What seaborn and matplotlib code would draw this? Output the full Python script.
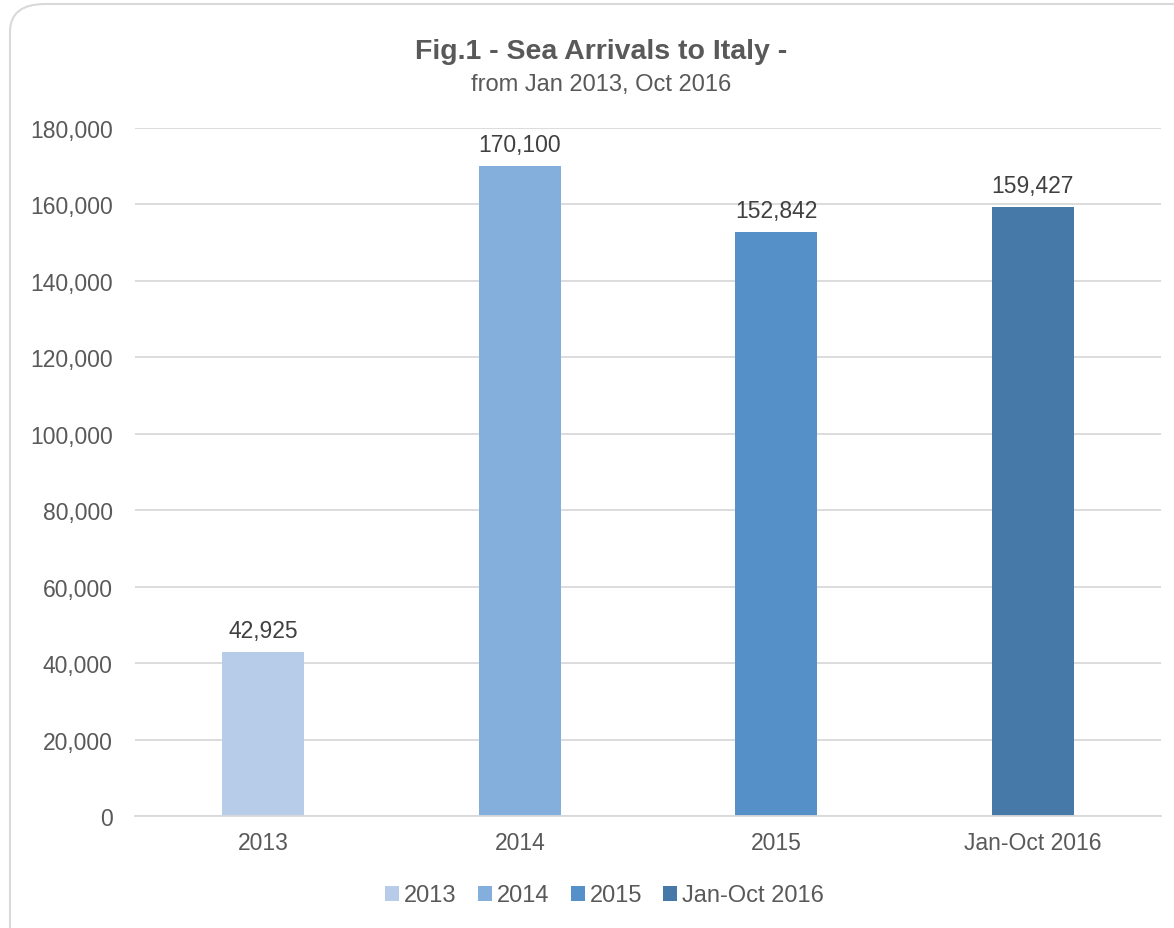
import matplotlib
matplotlib.use("Agg")
import matplotlib.pyplot as plt
import seaborn as sns
import pandas as pd
from matplotlib.patches import FancyBboxPatch, Patch
from matplotlib.ticker import FuncFormatter

categories = ["2013", "2014", "2015", "Jan-Oct 2016"]
arrivals = [42925, 170100, 152842, 159427]
colors = ["#B7CCE8", "#84AFDC", "#5591C8", "#4679A8"]
y_ticks = [0, 20000, 40000, 60000, 80000, 100000, 120000, 140000, 160000, 180000]

sns.set_theme(style="white")
plt.rcParams["font.family"] = ["Liberation Sans", "DejaVu Sans"]

df = pd.DataFrame({"period": categories, "arrivals": arrivals})

fig = plt.figure(figsize=(11.74, 9.29), dpi=100)
ax = fig.add_axes([0.115, 0.1206, 0.874, 0.7405])

sns.barplot(data=df, x="period", y="arrivals", hue="period", palette=colors,
            dodge=False, width=0.32, legend=False, ax=ax, saturation=1,
            linewidth=0, edgecolor="none")

ax.set_ylim(0, 180000)
ax.set_xlim(-0.5, 3.5)
ax.set_yticks(y_ticks)
ax.yaxis.set_major_formatter(FuncFormatter(lambda v, p: f"{int(v):,}"))
ax.grid(axis="y", color="#D9D9D9", linewidth=1.3)
ax.set_axisbelow(True)
for s in ["top", "right", "left"]:
    ax.spines[s].set_visible(False)
ax.spines["bottom"].set_color("#D9D9D9")
ax.spines["bottom"].set_linewidth(1.3)
ax.tick_params(axis="both", length=0, labelsize=16.5, colors="#595959")
ax.tick_params(axis="x", pad=11)
ax.tick_params(axis="y", pad=16)
ax.set_xlabel("")
ax.set_ylabel("")

for i, v in enumerate(arrivals):
    ax.text(i, v + 2600, f"{v:,}", ha="center", va="bottom", fontsize=16.5, color="#404040")

fig.text(0.512, 0.944, "Fig.1 - Sea Arrivals to Italy -", ha="center", va="center",
         fontsize=20.5, fontweight="bold", color="#595959")
fig.text(0.512, 0.909, "from Jan 2013, Oct 2016", ha="center", va="center",
         fontsize=17, color="#595959")

handles = [Patch(facecolor=c, edgecolor="none") for c in colors]
fig.legend(handles, categories, loc="center", bbox_to_anchor=(0.515, 0.035), ncol=4,
           frameon=False, fontsize=17, handlelength=0.6, handleheight=0.6,
           handletextpad=0.2, columnspacing=0.9, labelcolor="#595959")

border = FancyBboxPatch((10 / 1174, -0.05), 1.2, 1 - 5 / 929 + 0.05,
                        boxstyle="round,pad=0,rounding_size=0.03",
                        transform=fig.transFigure, facecolor="none",
                        edgecolor="#D9D9D9", linewidth=1.5, zorder=-1)
fig.patches.append(border)

fig.savefig("out.png", dpi=100)
